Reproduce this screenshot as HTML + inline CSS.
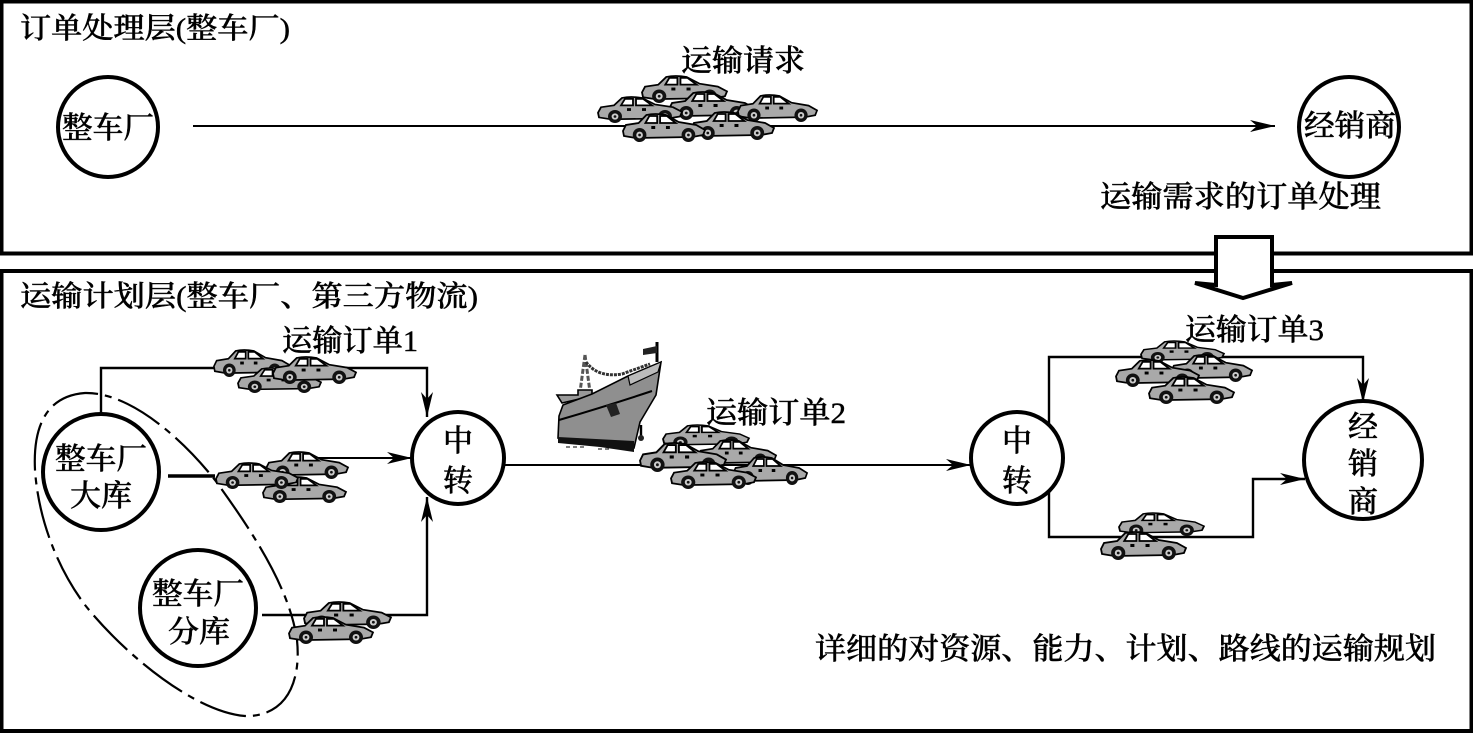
<!DOCTYPE html>
<html lang="zh"><head><meta charset="utf-8"><style>
html,body{margin:0;padding:0;background:#fff}
svg{display:block}
text{font-family:"Liberation Serif","Noto Serif CJK SC",serif;fill:#000;font-weight:500;stroke:#000;stroke-width:.45}
</style></head><body>
<svg xmlns="http://www.w3.org/2000/svg" width="1473" height="734" viewBox="0 0 1473 734">
<defs>
<symbol id="car" viewBox="0 0 86 28" overflow="visible" preserveAspectRatio="none">
<path d="M1 17 L4 11 L17 9 L25 1 Q34 -1 45 1 L58 8 L76 11 L85 16 L83 21 L72 23 L14 24 L2 22 Z" fill="#a9a9a9" stroke="#000" stroke-width="1.8"/>
<path d="M24 9 L28 2 H36 V9 Z M39 9 V2 H46 L55 9 Z" fill="#fff" stroke="#000" stroke-width="1.8"/>
<rect x="30" y="12" width="4" height="3" fill="#000"/><rect x="45" y="12" width="4" height="3" fill="#000"/>
<circle cx="18" cy="21" r="7" fill="#111"/><circle cx="18" cy="21" r="3.4" fill="#ccc"/><circle cx="18" cy="21" r="1.4" fill="#111"/>
<circle cx="68" cy="21" r="7" fill="#111"/><circle cx="68" cy="21" r="3.4" fill="#ccc"/><circle cx="68" cy="21" r="1.4" fill="#111"/>
</symbol>
<marker id="a" markerUnits="userSpaceOnUse" markerWidth="26" markerHeight="16" refX="25" refY="8" orient="auto"><path d="M0 2 L25 8 L0 14 L7 8 Z" fill="#000"/></marker>
</defs>
<rect width="1473" height="734" fill="#fff"/>
<rect x="1.5" y="1.5" width="1470" height="252" fill="none" stroke="#000" stroke-width="4"/>
<rect x="1.5" y="271" width="1470" height="460" fill="none" stroke="#000" stroke-width="4"/>
<path d="M1216 237 H1272 V285 L1292 283 L1243 298 L1195 283 L1216 285 Z" fill="#fff" stroke="#000" stroke-width="4"/>

<g fill="none" stroke="#000" stroke-width="2">
<path d="M193 126 H1275" marker-end="url(#a)"/>
<path d="M101 414 V368 H427 V417" stroke-width="2.4" marker-end="url(#a)"/>
<path d="M168 476 H215" stroke-width="3.4"/>
<path d="M315 458 H412" marker-end="url(#a)"/>
<path d="M262 615 H427 V497" stroke-width="2.4" marker-end="url(#a)"/>
<path d="M505 465 H971" marker-end="url(#a)"/>
<path d="M1049 426 V357 H1363 V403" stroke-width="2.4" marker-end="url(#a)"/>
<path d="M1049 490 V537 H1253 V479 H1305" stroke-width="2.4" marker-end="url(#a)"/>
<path d="M35 470 C33 430 44 396 85 393 C125 392 175 430 215 480 C255 535 290 590 297 640 C302 690 280 717 245 716 C195 712 125 655 85 605 C55 565 38 515 35 470 Z" stroke-width="2.2" stroke-dasharray="48 7 7 7"/>
</g>

<g fill="#fff" stroke="#000" stroke-width="4">
<circle cx="108" cy="127" r="50"/>
<circle cx="1349" cy="127" r="50"/>
<circle cx="458" cy="458" r="46"/>
<circle cx="1017" cy="458" r="46"/>
<circle cx="1363" cy="460" r="59"/>
<circle cx="101" cy="472" r="58"/>
<circle cx="198" cy="608" r="58"/>
</g>

<!-- ship -->
<g stroke="#000">
<path d="M585 355 L580 392 M585 355 L590 392" fill="none" stroke="#555" stroke-width="3" stroke-dasharray="5 2"/>
<path d="M586 362 Q598 378 622 374 L650 364" fill="none" stroke="#333" stroke-width="3" stroke-dasharray="3 1"/>
<path d="M557 395 H578 V390 H592 V396 L562 403 Z" fill="#999" stroke-width="1.6"/>
<path d="M559 416 L563 405 L592 394 L628 376 L661 362 L656 395 L640 422 L634 448 L558 438 Z" fill="#8f8f8f" stroke-width="1.6"/>
<path d="M559 420 Q610 405 652 391" fill="none" stroke-width="2"/>
<path d="M628 376 L661 362 L658 372 L630 385 Z" fill="#bbb" stroke-width="1.2"/>
<path d="M558 437 L634 441 L634 452 L600 447 L558 443 Z" fill="#111" stroke="none"/>
<path d="M606 405 L616 403 L620 414 L611 417 Z" fill="#222" stroke="none"/>
<path d="M641 425 V437" stroke-width="2.4"/>
<circle cx="641" cy="438" r="3" fill="#222" stroke="none"/>
<path d="M657 342 V362" stroke-width="3"/>
<path d="M643 349 L657 346 V353 L643 355 Z" fill="#222" stroke="none"/>
<path d="M566 447 H585 M598 449 H612" stroke-width="1" stroke-dasharray="4 3"/>
</g>

<!-- cars -->
<use href="#car" x="641" y="76" width="87" height="27"/>
<use href="#car" x="668" y="92" width="87" height="28"/>
<use href="#car" x="737" y="95" width="81" height="27"/>
<use href="#car" x="597" y="97" width="86" height="26"/>
<use href="#car" x="690" y="112" width="85" height="28"/>
<use href="#car" x="622" y="114" width="84" height="28"/>

<use href="#car" x="213" y="350" width="78" height="27"/>
<use href="#car" x="237" y="368" width="85" height="25"/>
<use href="#car" x="272" y="357" width="85" height="27"/>
<use href="#car" x="265" y="452" width="84" height="27"/>
<use href="#car" x="262" y="477" width="85" height="26"/>
<use href="#car" x="215" y="463" width="84" height="26"/>
<use href="#car" x="303" y="602" width="89" height="27"/>
<use href="#car" x="288" y="617" width="86" height="27"/>

<use href="#car" x="662" y="425" width="88" height="23"/>
<use href="#car" x="697" y="440" width="80" height="27"/>
<use href="#car" x="639" y="443" width="88" height="29"/>
<use href="#car" x="732" y="457" width="76" height="28"/>
<use href="#car" x="670" y="462" width="87" height="27"/>

<use href="#car" x="1140" y="341" width="85" height="22"/>
<use href="#car" x="1170" y="355" width="83" height="27"/>
<use href="#car" x="1115" y="360" width="85" height="27"/>
<use href="#car" x="1148" y="377" width="87" height="27"/>
<use href="#car" x="1118" y="513" width="87" height="23"/>
<use href="#car" x="1100" y="532" width="87" height="28"/>

<!-- labels -->
<g font-size="30">
<text x="20" y="38" font-size="29" textLength="270" lengthAdjust="spacingAndGlyphs">订单处理层(整车厂)</text>
<text x="681" y="71" font-size="30" textLength="124" lengthAdjust="spacingAndGlyphs">运输请求</text>
<text x="62" y="138" textLength="92" lengthAdjust="spacingAndGlyphs">整车厂</text>
<text x="1304" y="136" textLength="92" lengthAdjust="spacingAndGlyphs">经销商</text>
<text x="1100" y="207" textLength="281" lengthAdjust="spacingAndGlyphs">运输需求的订单处理</text>
<text x="20" y="306" font-size="29" textLength="458" lengthAdjust="spacingAndGlyphs">运输计划层(整车厂、第三方物流)</text>
<text x="282" y="351" textLength="136" lengthAdjust="spacingAndGlyphs">运输订单1</text>
<text x="706" y="423" textLength="140" lengthAdjust="spacingAndGlyphs">运输订单2</text>
<text x="1185" y="340" textLength="139" lengthAdjust="spacingAndGlyphs">运输订单3</text>
<text x="55" y="469" textLength="92" lengthAdjust="spacingAndGlyphs">整车厂</text>
<text x="70" y="506" textLength="62" lengthAdjust="spacingAndGlyphs">大库</text>
<text x="152" y="604" textLength="92" lengthAdjust="spacingAndGlyphs">整车厂</text>
<text x="168" y="642" textLength="62" lengthAdjust="spacingAndGlyphs">分库</text>
<text x="443" y="451">中</text>
<text x="443" y="491">转</text>
<text x="1002" y="451">中</text>
<text x="1002" y="491">转</text>
<text x="1348" y="437">经</text>
<text x="1348" y="474">销</text>
<text x="1348" y="512">商</text>
<text x="815" y="659" textLength="621" lengthAdjust="spacingAndGlyphs">详细的对资源、能力、计划、路线的运输规划</text>
</g>
</svg>
</body></html>
